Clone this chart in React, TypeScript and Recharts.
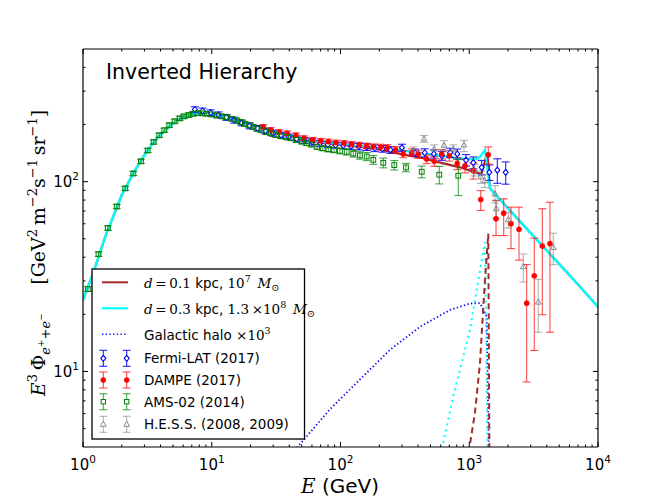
import React from 'react';
import { ComposedChart, XAxis, YAxis, Line, Scatter, ErrorBar } from 'recharts';

// ================= DATA =================
const xTickValues = [1, 2, 3, 4, 5, 6, 7, 8, 9, 10, 20, 30, 40, 50, 60, 70, 80, 90, 100, 200, 300, 400, 500, 600, 700, 800, 900, 1000, 2000, 3000, 4000, 5000, 6000, 7000, 8000, 9000, 10000];
const xMajor = [1, 10, 100, 1000, 10000];
const xMajorExp = ['0', '1', '2', '3', '4'];
const yTickValues = [5, 6, 7, 8, 9, 10, 20, 30, 40, 50, 60, 70, 80, 90, 100, 200, 300, 400];
const yMajor = [10, 100];
const yMajorExp = ['1', '2'];

// AMS-02 (2014)
const amsE = [1.09, 1.32, 1.56, 1.83, 2.13, 2.46, 2.82, 3.18, 3.54, 3.91, 4.28, 4.68, 5.15, 5.64, 6.09, 6.62, 7.15, 7.82, 8.45, 9.14, 9.98, 10.93, 11.95, 13.06, 14.29, 15.6, 16.8, 18.1, 19.57, 21.03, 22.6, 24.4, 26.4, 28.7, 31.5, 34.7, 37.7, 41.3, 45.7, 50, 54.6, 59.7, 66, 72.7, 80.4, 89, 99, 111.7, 125.7, 141.6, 159.8, 179.8, 215, 261.6, 322.6, 427.5, 585, 822];
const amsF = [27.2, 41.5, 57, 74, 92.2, 110.5, 128, 146, 162, 175.6, 186.6, 198.3, 208, 215.6, 220.8, 224.4, 228, 229.7, 229, 228, 226, 223.4, 220.8, 218.2, 214.5, 210.4, 206.1, 201.9, 198.1, 194.1, 190.1, 186.5, 182.7, 179.9, 176.2, 173.4, 172, 169.4, 166, 162.6, 159.5, 157, 152.5, 150.1, 148.3, 147.1, 145.3, 143.6, 140.6, 137.6, 135.7, 130.3, 125.7, 122.3, 118.8, 112.8, 108.8, 107.5];
const amsErr = [0.8, 1.1, 1.5, 1.9, 2.3, 2.8, 3.2, 3.6, 4, 4.4, 4.7, 5, 5.2, 5.4, 5.5, 5.6, 5.7, 5.7, 5.7, 5.7, 5.6, 5.6, 5.5, 5.5, 5.4, 5.3, 5.2, 5.1, 5, 4.9, 4.8, 4.7, 4.6, 4.6, 4.5, 4.5, 4.5, 4.4, 4.4, 4.4, 4.4, 4.5, 4.5, 4.6, 4.8, 5, 5.2, 5.5, 5.8, 6.2, 6.6, 7, 7.4, 7, 6, 8, 11.5, 23];

// Fermi-LAT (2017)
const fermiE = [7.4, 8.5, 9.8, 11.3, 13, 14.9, 17.1, 19.7, 22.7, 26.1, 30, 34.5, 39.7, 45.6, 52.5, 60.3, 69.4, 79.8, 91.7, 105, 121, 139, 160, 184, 212, 244, 300, 379, 451, 531, 613, 709, 807, 944, 1075, 1249, 1432, 1652, 1919];
const fermiF = [240, 236, 231, 225, 218, 211, 204, 197, 191, 185, 180, 176, 172, 168, 165, 162, 159, 157, 156, 155, 154, 153, 152, 150, 149, 147, 151, 142, 142, 140, 137, 142, 140, 130, 126, 119, 112, 115, 112];
const fermiErr = [8, 8, 8, 8, 7.5, 7.5, 7, 7, 6.5, 6.5, 6.5, 6, 6, 6, 6, 6, 6, 6, 6, 6, 6, 6, 6, 6, 6, 6, 6.5, 6.5, 7, 7, 7.5, 8, 8.5, 9, 9, 10.5, 10.5, 17, 15];

// DAMPE (2017)
const dampeE = [25.1, 28.8, 33.5, 38.6, 45.1, 52.1, 60.8, 70.2, 80.4, 92.3, 106.4, 122, 140, 159.8, 179.8, 205, 231, 268, 307, 357, 402, 467, 535, 611, 700, 807, 927, 1076, 1228, 1406, 1614, 1852, 2110, 2435, 2793, 3200, 3693, 4236];
const dampeF = [194.8, 187.3, 182.7, 179.9, 175.6, 169.4, 166, 164, 162.6, 160.6, 159.5, 157.6, 156.2, 154.3, 153, 152, 151.2, 147, 139.7, 142.3, 139.7, 131.5, 128, 139.7, 136.8, 124.7, 121.3, 114.2, 80.5, 138.5, 63.8, 68.2, 60.1, 56.1, 22.9, 31.9, 45.8, 47.2];
const dampeLo = [5, 5, 5, 5, 5, 5, 5, 5, 5, 5, 5, 5, 5, 5, 5, 5.5, 5.5, 6, 6, 6.5, 7, 7, 7.5, 8, 8.5, 9, 10, 11, 10, 14.7, 11.8, 16.2, 15.7, 17.5, 14.1, 19, 25.9, 31.1];
const dampeHi = [5, 5, 5, 5, 5, 5, 5, 5, 5, 5, 5, 5, 5, 5, 5, 5.5, 5.5, 6, 6, 6.5, 7, 7, 7.5, 8, 8.5, 9, 10, 11, 9.2, 13.9, 15.7, 13, 13.3, 17.3, 13.7, 18.5, 26.2, 30.7];

// H.E.S.S. (2008, 2009)
const hessE = [368, 445, 534, 637, 752, 910, 1100, 1230, 1320, 1585, 1620, 2011, 2630, 3436, 4497];
const hessF = [146.5, 168, 148.3, 155.5, 148.3, 156, 115, 106, 101, 86.2, 72, 63, 35.6, 23.2, 45];
const hessLo = [6, 7, 8, 9, 8, 12, 8, 8, 8, 9, 8, 6, 6, 7.1, 8.5];
const hessHi = [6, 7, 8, 9, 8, 9, 8, 8, 8, 9, 8, 6, 6, 7.4, 8.5];

// d = 0.3 kpc, 1.3e8 Msun (total)
const cyanE = [1, 1.2, 1.5, 2, 2.5, 3, 3.5, 4, 5, 6, 7, 8, 9, 10, 12, 15, 20, 25, 30, 40, 50, 70, 100, 150, 200, 300, 400, 500, 700, 900, 1100, 1200, 1325, 1449, 2000, 3000, 5000, 7000, 10000];
const cyanF = [23.8, 33, 52, 85, 113, 138, 160, 177, 203, 219, 227, 231, 231, 228, 222, 213, 200, 191, 184, 175, 169, 162, 157, 153, 150, 146, 142, 139, 135, 132, 131, 134, 147, 92, 72.4, 53.6, 36.8, 28.7, 21.9];

// d = 0.1 kpc, 1e7 Msun (total)
const brownE = [1, 1.2, 1.5, 2, 2.5, 3, 3.5, 4, 5, 6, 7, 8, 9, 10, 12, 15, 20, 25, 30, 40, 50, 70, 100, 150, 200, 290, 415, 594, 850, 1107, 1245, 1379, 1449, 2000, 3000, 5000, 7000, 10000];
const brownF = [23.8, 33, 52, 85, 113, 138, 160, 177, 203, 219, 227, 231, 231, 228, 222, 213, 200, 191, 184, 175, 169, 162, 157, 152.5, 148, 140, 134, 126, 119, 112, 110, 142, 92, 72.4, 53.6, 36.8, 28.7, 21.9];

// subhalo components
const comp1E = [960, 1014, 1108, 1212, 1282, 1325, 1366, 1406, 1460];
const comp1F = [3.3, 4.15, 6.08, 11.1, 21.1, 30.3, 40.1, 53.2, 0.3];
const comp2E = [580, 629, 752, 899, 1014, 1143, 1250, 1325, 1449];
const comp2F = [3.4, 4.23, 7.43, 12, 16.6, 26.9, 38.5, 48.1, 0.3];

// Galactic halo x 1e3
const haloE = [40, 46.4, 82.8, 141.7, 242, 414, 709, 1014, 1212, 1366, 1500];
const haloF = [3.4, 4.0, 6.32, 9.08, 13, 17.2, 21.1, 22.8, 22.9, 19.5, 0.3];

// ================= BUILD =================
const toLine = (E: number[], F: number[]) => E.map((e, i) => ({ E: e, F: F[i] }));
const toPts = (E: number[], F: number[], lo: number[], hi: number[]) =>
  E.map((e, i) => ({ E: e, F: F[i], err: [lo[i], hi[i]] }));

const cyanData = toLine(cyanE, cyanF);
const brownData = toLine(brownE, brownF);
const comp1Data = toLine(comp1E, comp1F);
const comp2Data = toLine(comp2E, comp2F);
const haloData = toLine(haloE, haloF);
const amsData = toPts(amsE, amsF, amsErr, amsErr);
const fermiData = toPts(fermiE, fermiF, fermiErr, fermiErr);
const dampeData = toPts(dampeE, dampeF, dampeLo, dampeHi);
const hessData = toPts(hessE, hessF, hessLo, hessHi);

const SANS = "'DejaVu Sans', sans-serif";
const SERIF = "'DejaVu Serif', serif";
const BROWN = '#a52a2a';
const CYAN = '#00ffff';
const BLUE = '#0000ff';
const RED = '#ff0000';
const GREEN = '#008000';
const GRAY = '#808080';

const MAJ = 5;
const MIN = 2.5;

const makeXTick = (pos: 'bottom' | 'top') => (p: any) => {
  const { x, y, payload } = p;
  const idx = xMajor.indexOf(payload.value);
  const len = idx >= 0 ? MAJ : MIN;
  const dir = pos === 'bottom' ? -1 : 1;
  return (
    <g>
      <line x1={x} y1={y} x2={x} y2={y + dir * len} stroke="#000" strokeWidth={1} />
      {pos === 'bottom' && idx >= 0 && (
        <text x={x} y={y + 23} textAnchor="middle" fontFamily={SANS} fontSize={15} fill="#000">
          10<tspan dy={-7} fontSize={10.5}>{xMajorExp[idx]}</tspan>
        </text>
      )}
    </g>
  );
};

const makeYTick = (pos: 'left' | 'right') => (p: any) => {
  const { x, y, payload } = p;
  const idx = yMajor.indexOf(payload.value);
  const len = idx >= 0 ? MAJ : MIN;
  const dir = pos === 'left' ? 1 : -1;
  return (
    <g>
      <line x1={x} y1={y} x2={x + dir * len} y2={y} stroke="#000" strokeWidth={1} />
      {pos === 'left' && idx >= 0 && (
        <text x={x - 4} y={y + 5.5} textAnchor="end" fontFamily={SANS} fontSize={15} fill="#000">
          10<tspan dy={-7} fontSize={10.5}>{yMajorExp[idx]}</tspan>
        </text>
      )}
    </g>
  );
};

const diamondPath = (cx: number, cy: number) =>
  `M${cx} ${cy - 3}L${cx + 2.5} ${cy}L${cx} ${cy + 3}L${cx - 2.5} ${cy}Z`;
const triPath = (cx: number, cy: number) =>
  `M${cx} ${cy - 3.2}L${cx + 2.9} ${cy + 2}L${cx - 2.9} ${cy + 2}Z`;

const DiamondShape = (p: any) =>
  p.cx == null ? <g /> : <path d={diamondPath(p.cx, p.cy)} fill="#fff" stroke={BLUE} strokeWidth={1.1} />;
const CircleShape = (p: any) =>
  p.cx == null ? <g /> : <circle cx={p.cx} cy={p.cy} r={2.6} fill={RED} stroke={RED} strokeWidth={0.4} />;
const SquareShape = (p: any) =>
  p.cx == null ? <g /> : <rect x={p.cx - 2.4} y={p.cy - 2.4} width={4.8} height={4.8} fill="none" stroke={GREEN} strokeWidth={1} />;
const TriShape = (p: any) =>
  p.cx == null ? <g /> : <path d={triPath(p.cx, p.cy)} fill="none" stroke={GRAY} strokeWidth={0.9} />;

const LegendErr = ({ x, y, color, op, kind }: { x: number; y: number; color: string; op: number; kind: string }) => (
  <g>
    <g stroke={color} strokeOpacity={op} strokeWidth={1.1}>
      <line x1={x} y1={y - 8} x2={x} y2={y + 8} />
      <line x1={x - 4} y1={y - 8} x2={x + 4} y2={y - 8} />
      <line x1={x - 4} y1={y + 8} x2={x + 4} y2={y + 8} />
    </g>
    {kind === 'd' && <path d={diamondPath(x, y)} fill="#fff" stroke={BLUE} strokeWidth={1.1} />}
    {kind === 'c' && <circle cx={x} cy={y} r={2.6} fill={RED} stroke={RED} strokeWidth={0.4} />}
    {kind === 's' && <rect x={x - 2.2} y={y - 2.2} width={4.4} height={4.4} fill="#fff" stroke={GREEN} strokeWidth={1} />}
    {kind === 't' && <path d={triPath(x, y)} fill="#fff" stroke={GRAY} strokeWidth={0.9} />}
  </g>
);

const Overlay = () => {
  const lx1 = 102;
  const lx2 = 128;
  const mx1 = 103.3;
  const mx2 = 126.7;
  const tx = 144;
  return (
    <svg width={664} height={498} style={{ position: 'absolute', left: 0, top: 0, pointerEvents: 'none' }}>
      {/* title */}
      <text x={106} y={79} fontFamily={SANS} fontSize={20.5} fill="#000">Inverted Hierarchy</text>

      {/* x label */}
      <text x={340} y={493} textAnchor="middle" fontSize={20} fill="#000">
        <tspan fontFamily={SERIF} fontStyle="italic">E</tspan>
        <tspan fontFamily={SANS}>{'\u00a0(GeV)'}</tspan>
      </text>

      {/* y label */}
      <text transform="translate(45,253) rotate(-90)" textAnchor="middle" fontFamily={SERIF} fontSize={19} fill="#000">
        <tspan fontStyle="italic">E</tspan>
        <tspan dy={-8} fontSize={13}>3</tspan>
        <tspan dy={8}>{'\u2009\u03a6'}</tspan>
        <tspan dy={5} fontSize={13} fontStyle="italic">e</tspan>
        <tspan dy={-6} fontSize={9}>+</tspan>
        <tspan dy={6} fontSize={13}>+</tspan>
        <tspan fontSize={13} fontStyle="italic">e</tspan>
        <tspan dy={-6} fontSize={9}>{'\u2212'}</tspan>
        <tspan dy={1}>{'\u2003\u2002[GeV'}</tspan>
        <tspan dy={-8} fontSize={13}>2</tspan>
        <tspan dy={8}>{'\u2009m'}</tspan>
        <tspan dy={-8} fontSize={13}>{'\u22122'}</tspan>
        <tspan dy={8}>s</tspan>
        <tspan dy={-8} fontSize={13}>{'\u22121'}</tspan>
        <tspan dy={8}>{'\u2009sr'}</tspan>
        <tspan dy={-8} fontSize={13}>{'\u22121'}</tspan>
        <tspan dy={8}>]</tspan>
      </text>

      {/* legend */}
      <rect x={92} y={269} width={212.5} height={170} fill="#fff" stroke="#000" strokeWidth={1.3} />
      <line x1={lx1} y1={282.3} x2={lx2} y2={282.3} stroke={BROWN} strokeWidth={2} />
      <line x1={lx1} y1={308.3} x2={lx2} y2={308.3} stroke={CYAN} strokeWidth={2.2} />
      <line x1={lx1} y1={334.3} x2={lx2} y2={334.3} stroke={BLUE} strokeWidth={1.6} strokeDasharray="1.3 2.4" />
      <LegendErr x={mx1} y={358.3} color={BLUE} op={0.85} kind="d" />
      <LegendErr x={mx2} y={358.3} color={BLUE} op={0.85} kind="d" />
      <LegendErr x={mx1} y={380} color={RED} op={0.7} kind="c" />
      <LegendErr x={mx2} y={380} color={RED} op={0.7} kind="c" />
      <LegendErr x={mx1} y={401.7} color={GREEN} op={0.7} kind="s" />
      <LegendErr x={mx2} y={401.7} color={GREEN} op={0.7} kind="s" />
      <LegendErr x={mx1} y={424.3} color={GRAY} op={0.6} kind="t" />
      <LegendErr x={mx2} y={424.3} color={GRAY} op={0.6} kind="t" />

      <text x={tx} y={287.5} fontSize={13.5} fill="#000">
        <tspan fontFamily={SERIF} fontStyle="italic">d</tspan>
        <tspan fontFamily={SERIF}>{'\u2009=\u20090.1'}</tspan>
        <tspan fontFamily={SANS}>{' kpc, '}</tspan>
        <tspan fontFamily={SERIF}>10</tspan>
        <tspan fontFamily={SERIF} dy={-6} fontSize={9.5}>7</tspan>
        <tspan fontFamily={SERIF} fontStyle="italic" dy={6}>{'\u2002M'}</tspan>
        <tspan fontFamily={SERIF} dy={3} fontSize={10}>{'\u2299'}</tspan>
      </text>
      <text x={tx} y={313.5} fontSize={13.5} fill="#000">
        <tspan fontFamily={SERIF} fontStyle="italic">d</tspan>
        <tspan fontFamily={SERIF}>{'\u2009=\u20090.3'}</tspan>
        <tspan fontFamily={SANS}>{' kpc, '}</tspan>
        <tspan fontFamily={SERIF}>{'1.3\u2009\u00d710'}</tspan>
        <tspan fontFamily={SERIF} dy={-6} fontSize={9.5}>8</tspan>
        <tspan fontFamily={SERIF} fontStyle="italic" dy={6}>{'\u2002M'}</tspan>
        <tspan fontFamily={SERIF} dy={3} fontSize={10}>{'\u2299'}</tspan>
      </text>
      <text x={tx} y={339.5} fontSize={13.5} fill="#000">
        <tspan fontFamily={SANS}>{'Galactic halo '}</tspan>
        <tspan fontFamily={SERIF}>{'\u00d710'}</tspan>
        <tspan fontFamily={SERIF} dy={-6} fontSize={9.5}>3</tspan>
      </text>
      <text x={tx} y={363.3} fontFamily={SANS} fontSize={13.5} fill="#000">Fermi-LAT (2017)</text>
      <text x={tx} y={385} fontFamily={SANS} fontSize={13.5} fill="#000">DAMPE (2017)</text>
      <text x={tx} y={406.7} fontFamily={SANS} fontSize={13.5} fill="#000">AMS-02 (2014)</text>
      <text x={tx} y={429.3} fontFamily={SANS} fontSize={13.5} fill="#000">H.E.S.S. (2008, 2009)</text>
    </svg>
  );
};

export default function App() {
  const axisLine = { stroke: '#000', strokeWidth: 1.2 };
  return (
    <div style={{ position: 'absolute', left: 0, top: 0, width: 664, height: 498, background: '#fff' }}>
      <ComposedChart width={664} height={498} margin={{ top: 39, right: 56, bottom: 21, left: 23 }}>
        <XAxis dataKey="E" type="number" scale="log" domain={[1, 10000]} allowDataOverflow ticks={xTickValues}
          interval={0} tickSize={0} tickMargin={0} tickLine={false} axisLine={axisLine} tick={makeXTick('bottom')} height={30} />
        <XAxis xAxisId="top" orientation="top" dataKey="E" type="number" scale="log" domain={[1, 10000]} allowDataOverflow
          ticks={xTickValues} interval={0} tickSize={0} tickMargin={0} tickLine={false} axisLine={axisLine} tick={makeXTick('top')} height={10} />
        <YAxis dataKey="F" type="number" scale="log" domain={[4, 500]} allowDataOverflow ticks={yTickValues}
          interval={0} tickSize={0} tickMargin={0} tickLine={false} axisLine={axisLine} tick={makeYTick('left')} width={60} />
        <YAxis yAxisId="right" orientation="right" dataKey="F" type="number" scale="log" domain={[4, 500]} allowDataOverflow
          ticks={yTickValues} interval={0} tickSize={0} tickMargin={0} tickLine={false} axisLine={axisLine} tick={makeYTick('right')} width={10} />

        <Line data={brownData} dataKey="F" type="linear" stroke={BROWN} strokeWidth={2.2} dot={false} activeDot={false} isAnimationActive={false} />
        <Line data={cyanData} dataKey="F" type="linear" stroke={CYAN} strokeWidth={2.4} dot={false} activeDot={false} isAnimationActive={false} />
        <Line data={haloData} dataKey="F" type="linear" stroke={BLUE} strokeWidth={1.8} strokeDasharray="1.3 2.4" dot={false} activeDot={false} isAnimationActive={false} />
        <Line data={comp2Data} dataKey="F" type="linear" stroke={CYAN} strokeWidth={2} strokeDasharray="2 4" dot={false} activeDot={false} isAnimationActive={false} />
        <Line data={comp1Data} dataKey="F" type="linear" stroke={BROWN} strokeWidth={2} strokeDasharray="6 4" dot={false} activeDot={false} isAnimationActive={false} />

        <Scatter data={fermiData} dataKey="F" shape={DiamondShape} isAnimationActive={false}>
          <ErrorBar dataKey="err" direction="y" width={4} stroke={BLUE} strokeOpacity={0.85} strokeWidth={1.1} isAnimationActive={false} />
        </Scatter>
        <Scatter data={dampeData} dataKey="F" shape={CircleShape} isAnimationActive={false}>
          <ErrorBar dataKey="err" direction="y" width={4} stroke={RED} strokeOpacity={0.7} strokeWidth={1.1} isAnimationActive={false} />
        </Scatter>
        <Scatter data={amsData} dataKey="F" shape={SquareShape} isAnimationActive={false}>
          <ErrorBar dataKey="err" direction="y" width={4} stroke={GREEN} strokeOpacity={0.7} strokeWidth={1.1} isAnimationActive={false} />
        </Scatter>
        <Scatter data={hessData} dataKey="F" shape={TriShape} isAnimationActive={false}>
          <ErrorBar dataKey="err" direction="y" width={4} stroke={GRAY} strokeOpacity={0.6} strokeWidth={1.1} isAnimationActive={false} />
        </Scatter>
      </ComposedChart>
      <Overlay />
    </div>
  );
}
